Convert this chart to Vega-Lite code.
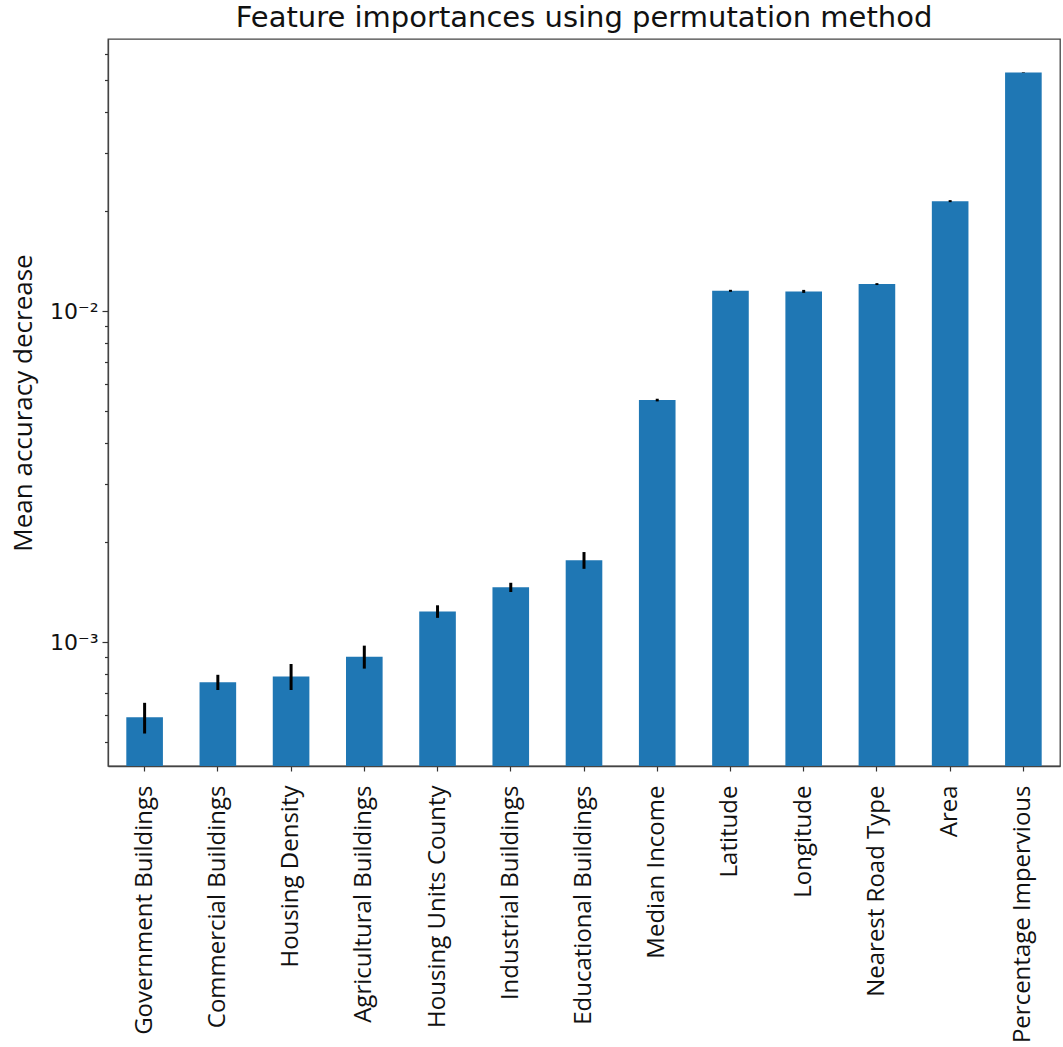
{
  "$schema": "https://vega.github.io/schema/vega-lite/v6.json",
  "autosize": "none",
  "padding": {"left": 108, "top": 39, "right": 3, "bottom": 281},
  "width": 952,
  "height": 727,
  "background": "white",
  "title": {
    "text": "Feature importances using permutation method",
    "font": "DejaVu Sans",
    "fontSize": 29,
    "fontWeight": "normal",
    "color": "#111",
    "anchor": "middle",
    "offset": 6
  },
  "data": {
    "values": [
      {"feature": "Government Buildings", "mean": 0.000592, "std": 0.000063},
      {"feature": "Commercial Buildings", "mean": 0.000756, "std": 0.000040},
      {"feature": "Housing Density", "mean": 0.000787, "std": 0.000071},
      {"feature": "Agricultural Buildings", "mean": 0.000903, "std": 0.000072},
      {"feature": "Housing Units County", "mean": 0.001237, "std": 0.000054},
      {"feature": "Industrial Buildings", "mean": 0.001463, "std": 0.000047},
      {"feature": "Educational Buildings", "mean": 0.001767, "std": 0.000103},
      {"feature": "Median Income", "mean": 0.005384, "std": 0.00005},
      {"feature": "Latitude", "mean": 0.011515, "std": 0.00008},
      {"feature": "Longitude", "mean": 0.011468, "std": 0.00012},
      {"feature": "Nearest Road Type", "mean": 0.012066, "std": 0.00008},
      {"feature": "Area", "mean": 0.02149, "std": 0.00015},
      {"feature": "Percentage Impervious", "mean": 0.05261, "std": 0.0001}
    ]
  },
  "encoding": {
    "x": {
      "field": "feature",
      "type": "nominal",
      "sort": null,
      "scale": {"paddingInner": 0.5, "paddingOuter": 0.25},
      "axis": {
        "title": null,
        "labelAngle": -90,
        "labelAlign": "right",
        "labelBaseline": "middle",
        "labelFont": "Open Sans",
        "labelFontSize": 24,
        "labelColor": "#111",
        "labelPadding": 14,
        "tickSize": 5,
        "tickColor": "#333",
        "tickWidth": 1.2,
        "domainColor": "#444",
        "domainWidth": 1.3,
        "labelOverlap": false,
        "labelLimit": 400
      }
    }
  },
  "layer": [
    {
      "mark": {"type": "bar", "color": "#1f77b4", "clip": true},
      "encoding": {
        "y": {
          "field": "mean",
          "type": "quantitative",
          "scale": {"type": "log", "domain": [0.000422, 0.0664], "nice": false},
          "axis": {
            "title": "Mean accuracy decrease",
            "titleFont": "Open Sans",
            "titleFontSize": 26,
            "titleFontWeight": "normal",
            "titleColor": "#111",
            "titlePadding": 13,
            "values": [0.0005, 0.0006, 0.0007, 0.0008, 0.0009, 0.001, 0.002, 0.003, 0.004, 0.005, 0.006, 0.007, 0.008, 0.009, 0.01, 0.02, 0.03, 0.04, 0.05, 0.06],
            "labelExpr": "datum.value == 0.01 ? '10⁻²' : datum.value == 0.001 ? '10⁻³' : ''",
            "labelFont": "DejaVu Sans",
            "labelFontSize": 22,
            "labelColor": "#111",
            "labelPadding": 4,
            "tickSize": {"condition": {"test": "datum.value == 0.01 || datum.value == 0.001", "value": 6}, "value": 3.5},
            "tickColor": "#333",
            "tickWidth": 1.2,
            "domainColor": "#444",
            "domainWidth": 1.3,
            "grid": false
          }
        },
        "y2": {"datum": 0.000422}
      }
    },
    {
      "mark": {"type": "errorbar", "color": "black", "thickness": 3},
      "encoding": {
        "y": {"field": "mean", "type": "quantitative", "title": "Mean accuracy decrease"},
        "yError": {"field": "std"}
      }
    }
  ],
  "config": {
    "view": {"stroke": "#444", "strokeWidth": 1.3},
    "axis": {"grid": false}
  }
}
